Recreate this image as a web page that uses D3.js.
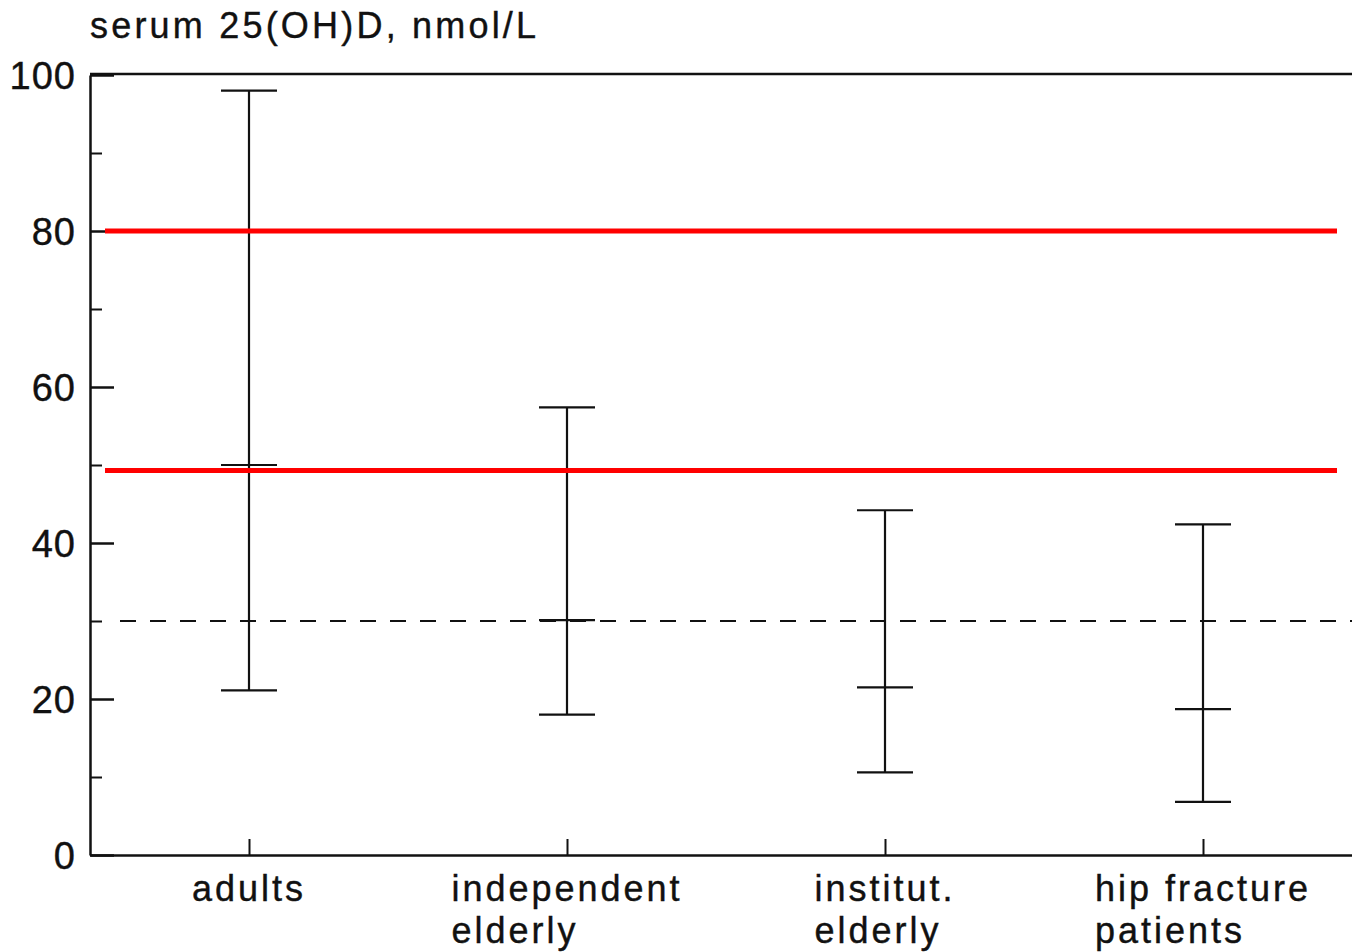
<!DOCTYPE html>
<html>
<head>
<meta charset="utf-8">
<script src="https://cdn.jsdelivr.net/npm/d3@7"></script>
<style>
  html, body { margin: 0; padding: 0; background: #fff; }
  svg { display: block; }
  text { font-family: "Liberation Sans", Arial, Helvetica, sans-serif; fill: #111; stroke: #111; stroke-width: 0.4px; }
</style>
</head>
<body>
<svg id="chart" width="1352" height="952"></svg>
<script>
// Serum 25(OH)D ranges by population group
const groups = ["adults", "independent elderly", "institut. elderly", "hip fracture patients"];
const groupLabelLines = [["adults"], ["independent", "elderly"], ["institut.", "elderly"], ["hip fracture", "patients"]];
const upperValues = [98.0, 57.4, 44.2, 42.4];
const middleValues = [50.0, 30.1, 21.5, 18.7];
const lowerValues = [21.1, 18.0, 10.6, 6.8];

// Reference thresholds (nmol/L)
const targetRange = [49.3, 80];
const deficiencyCutoff = 30;

const majorTicks = [0, 20, 40, 60, 80, 100];
const minorTicks = [10, 30, 50, 70, 90];
const yTitle = "serum 25(OH)D, nmol/L";

const svg = d3.select("#chart");
const W = 1352;
const plotLeft = 90, plotRight = 1362, plotTop = 75, plotBottom = 855;

const x = d3.scalePoint().domain(groups).range([plotLeft, plotRight]).padding(0.5);
const y = d3.scaleLinear().domain([0, 100]).range([plotBottom, plotTop]);

const ink = "#111";

// y axis: major ticks pointing inward with labels
const yAxis = svg.append("g")
  .attr("transform", `translate(${plotLeft},0)`)
  .call(d3.axisLeft(y).tickValues(majorTicks).tickSize(-24).tickSizeOuter(0).tickPadding(14));
yAxis.select(".domain").attr("stroke", ink).attr("stroke-width", 2.5);
yAxis.selectAll(".tick line").attr("stroke", ink).attr("stroke-width", 2.5);
yAxis.selectAll(".tick text")
  .attr("font-size", 38).attr("letter-spacing", 1).attr("fill", ink)
  .style("font-family", "'Liberation Sans', Arial, sans-serif")
  .attr("dy", "0.36em");

// y axis: minor ticks
const yMinor = svg.append("g")
  .attr("transform", `translate(${plotLeft},0)`)
  .call(d3.axisLeft(y).tickValues(minorTicks).tickSize(-12).tickSizeOuter(0).tickFormat(""));
yMinor.select(".domain").remove();
yMinor.selectAll(".tick line").attr("stroke", ink).attr("stroke-width", 2);

// x axis with inward ticks
const xAxis = svg.append("g")
  .attr("transform", `translate(0,${plotBottom})`)
  .call(d3.axisBottom(x).tickSize(-16).tickSizeOuter(0).tickFormat(""));
xAxis.select(".domain").attr("stroke", ink).attr("stroke-width", 2.5);
xAxis.selectAll(".tick line").attr("stroke", ink).attr("stroke-width", 2);

// top frame line
svg.append("line")
  .attr("x1", plotLeft).attr("x2", W)
  .attr("y1", y(100) - 1).attr("y2", y(100) - 1)
  .attr("stroke", ink).attr("stroke-width", 2.5);

// axis title
svg.append("text")
  .attr("x", 90).attr("y", 38)
  .attr("font-size", 36).attr("letter-spacing", 3.2)
  .text(yTitle);

// category labels: first line centred on the tick, second line aligned with it
groupLabelLines.forEach((lines, i) => {
  const cx = x(groups[i]);
  const g = svg.append("g");
  const first = g.append("text")
    .attr("font-size", 36).attr("letter-spacing", 3)
    .attr("y", 901)
    .text(lines[0]);
  const w = first.node().getComputedTextLength();
  const x0 = cx - w / 2;
  first.attr("x", x0);
  lines.slice(1).forEach((ln, j) => {
    g.append("text")
      .attr("font-size", 36).attr("letter-spacing", 3)
      .attr("x", x0).attr("y", 901 + 42 * (j + 1))
      .text(ln);
  });
});

// dashed cutoff line
svg.append("line")
  .attr("x1", 120).attr("x2", W)
  .attr("y1", y(deficiencyCutoff)).attr("y2", y(deficiencyCutoff))
  .attr("stroke", ink).attr("stroke-width", 2)
  .attr("stroke-dasharray", "16,14");

// error bars
const capHalf = 28;
const bars = svg.append("g").selectAll("g").data(groups).join("g");
bars.append("line")
  .attr("x1", d => x(d)).attr("x2", d => x(d))
  .attr("y1", (d, i) => y(upperValues[i])).attr("y2", (d, i) => y(lowerValues[i]))
  .attr("stroke", ink).attr("stroke-width", 2.2);
[upperValues, middleValues, lowerValues].forEach(vals => {
  bars.append("line")
    .attr("x1", d => x(d) - capHalf).attr("x2", d => x(d) + capHalf)
    .attr("y1", (d, i) => y(vals[i])).attr("y2", (d, i) => y(vals[i]))
    .attr("stroke", ink).attr("stroke-width", 2.2);
});

// red reference lines
svg.append("g").selectAll("line").data(targetRange).join("line")
  .attr("x1", 105).attr("x2", 1337)
  .attr("y1", d => y(d)).attr("y2", d => y(d))
  .attr("stroke", "#ff0000").attr("stroke-width", 5);
</script>
</body>
</html>
